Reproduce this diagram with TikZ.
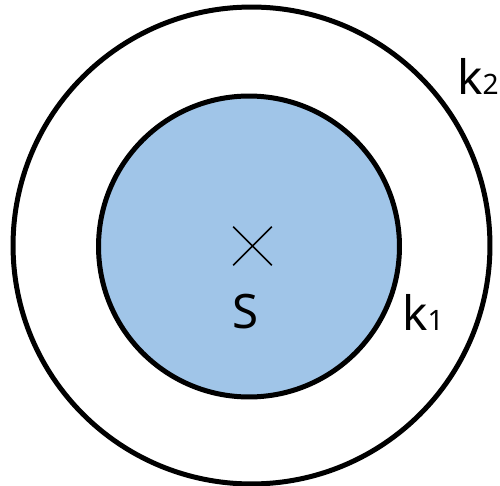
\documentclass[tikz,border=0pt]{standalone}
\usepackage{fontspec}
\setmainfont{Noto Sans}
\usepackage{tikz}
\usetikzlibrary{shapes.misc}
\definecolor{setblue}{RGB}{160,197,232}
\newcommand{\sub}[1]{{\fontsize{16}{16}\selectfont #1}}

\begin{document}
\begin{tikzpicture}[
  x=0.02cm,y=-0.02cm,
  ring/.style={draw,circle,line width=0.1cm,inner sep=0pt},
  lbl/.style={inner sep=0pt,font=\fontsize{27}{27}\selectfont}
]
\useasboundingbox (0,0) rectangle (500,486);
\node[ring,minimum size=9.54cm] (k2) at (251.5,245.5) {};
\node[ring,fill=setblue,minimum size=6.02cm] (k1) at (249,246.5) {};
\node[draw,cross out,line width=0.9pt,minimum size=0.74cm,inner sep=0pt] (ctr) at (252.5,246) {};
\node[lbl,anchor=base] (s) at (246,328) {S};
\node[lbl,anchor=base west] (lk1) at (402,330) {k\sub{1}};
\node[lbl,anchor=base west] (lk2) at (457,95) {k\sub{2}};
\end{tikzpicture}
\end{document}
